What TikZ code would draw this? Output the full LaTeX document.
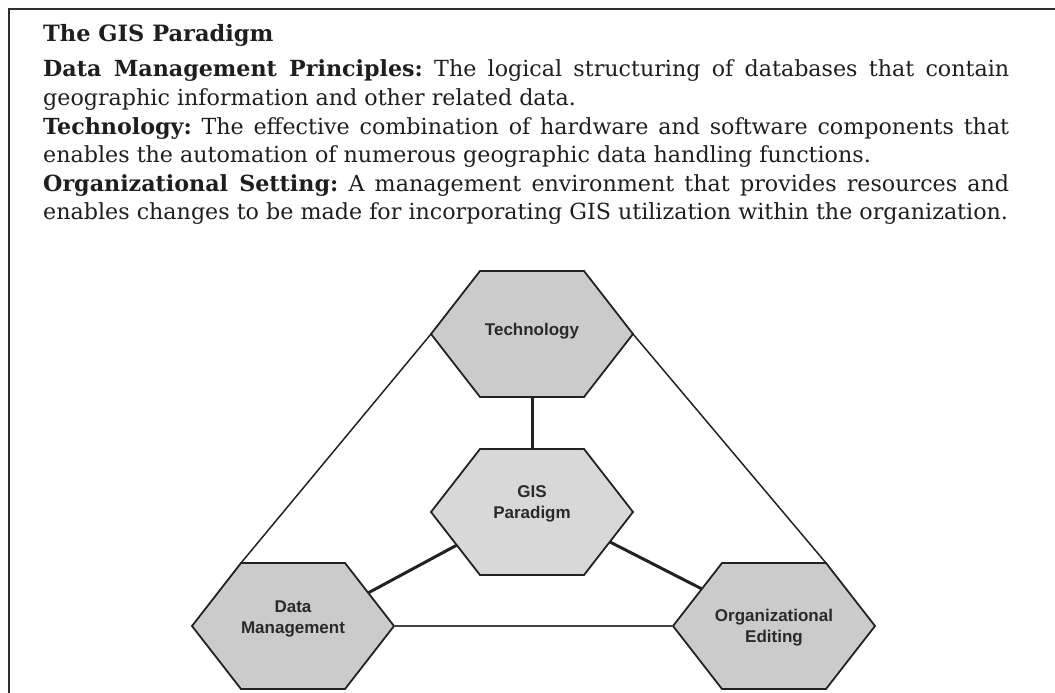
\documentclass[tikz,border=0pt]{standalone}
\usepackage{fontspec}
\setmainfont{DejaVu Serif}
\newfontfamily\hexfont{Liberation Sans}
\usetikzlibrary{calc}
\pgfdeclarelayer{background}
\pgfsetlayers{background,main}
\frenchspacing
\definecolor{framegray}{HTML}{2E2E2E}
\definecolor{linegray}{HTML}{222222}
\definecolor{hexfill}{HTML}{CBCBCB}
\definecolor{gisfill}{HTML}{D8D8D8}
\definecolor{hextext}{HTML}{2A2A2A}
\definecolor{bodytext}{HTML}{1E1E1E}
\newcommand{\bodysize}{\fontsize{22.2pt}{26pt}\selectfont}
\newcommand{\titlesize}{\fontsize{22.5pt}{26pt}\selectfont}
\newcommand{\hexlbl}[2]{\raisebox{#1}[\height][\depth]{\begin{tabular}{@{}c@{}}#2\end{tabular}}}
\newcommand{\hexshape}[2]{%
  \draw[hexborder, fill=#2]
    ($(#1)+(-101,0)$) -- ($(#1)+(-52,-63)$) -- ($(#1)+(52,-63)$) -- ($(#1)+(101,0)$)
    -- ($(#1)+(52,63)$) -- ($(#1)+(-52,63)$) -- cycle;}
\tikzset{
  frameline/.style={draw=framegray, line width=2.5pt},
  txt/.style={anchor=base west, inner sep=0pt, text=bodytext, font=\bodysize},
  hexbox/.style={minimum width=202pt, minimum height=126pt, inner sep=0pt,
    font={\hexfont\bfseries\fontsize{17pt}{21pt}\selectfont}, text=hextext},
  hexborder/.style={draw=linegray, line width=1.8pt, line join=miter},
  outerline/.style={draw=linegray, line width=1.5pt},
  bottomline/.style={draw=linegray!85, line width=1.3pt},
  innerline/.style={draw=linegray, line width=3pt}
}
\begin{document}
\begin{tikzpicture}[x=1pt,y=-1pt]
\useasboundingbox (0,0) rectangle (1055,693);
\draw[frameline] (9,693) -- (9,9) -- (1055,9);

\node[txt, font=\titlesize\bfseries] (title) at (43,42) {The GIS Paradigm};
\node[txt] (l1) at (43,77) {\makebox[966pt][s]{\textbf{Data Management Principles:} The logical structuring of databases that contain}};
\node[txt] (l2) at (43,105.5) {geographic information and other related data.};
\node[txt] (l3) at (43,134) {\makebox[966pt][s]{\textbf{Technology:} The effective combination of hardware and software components that}};
\node[txt] (l4) at (43,162.5) {enables the automation of numerous geographic data handling functions.};
\node[txt] (l5) at (43,191) {\makebox[966pt][s]{\textbf{Organizational Setting:} A management environment that provides resources and}};
\node[txt] (l6) at (43,219.5) {enables changes to be made for incorporating GIS utilization within the organization.};

\node[hexbox] (tech) at (532,334) {\hexlbl{3pt}{Technology}};
\node[hexbox] (gis) at (532,512) {\hexlbl{8pt}{GIS\\Paradigm}};
\node[hexbox] (dm) at (293,626) {\hexlbl{7pt}{Data\\Management}};
\node[hexbox] (oe) at (774,626) {\hexlbl{-2pt}{Organizational\\Editing}};

\begin{pgfonlayer}{background}
\hexshape{tech}{hexfill}
\hexshape{gis}{gisfill}
\hexshape{dm}{hexfill}
\hexshape{oe}{hexfill}
\end{pgfonlayer}

\coordinate (tech-w) at ($(tech)+(-101,0)$);
\coordinate (tech-e) at ($(tech)+(101,0)$);
\coordinate (dm-nw) at ($(dm)+(-52,-63)$);
\coordinate (oe-ne) at ($(oe)+(52,-63)$);
\coordinate (gis-dm) at ($(gis)+(-75,33)$);
\coordinate (dm-gis) at ($(dm)+(75,-33)$);
\coordinate (gis-oe) at ($(gis)+(78,30)$);
\coordinate (oe-gis) at ($(oe)+(-72,-37)$);

\draw[outerline] (tech-w) -- (dm-nw);
\draw[outerline] (tech-e) -- (oe-ne);
\draw[bottomline] (dm.east) -- (oe.west);
\draw[innerline] (tech.south) -- (gis.north);
\draw[innerline] (gis-dm) -- (dm-gis);
\draw[innerline] (gis-oe) -- (oe-gis);
\end{tikzpicture}
\end{document}
